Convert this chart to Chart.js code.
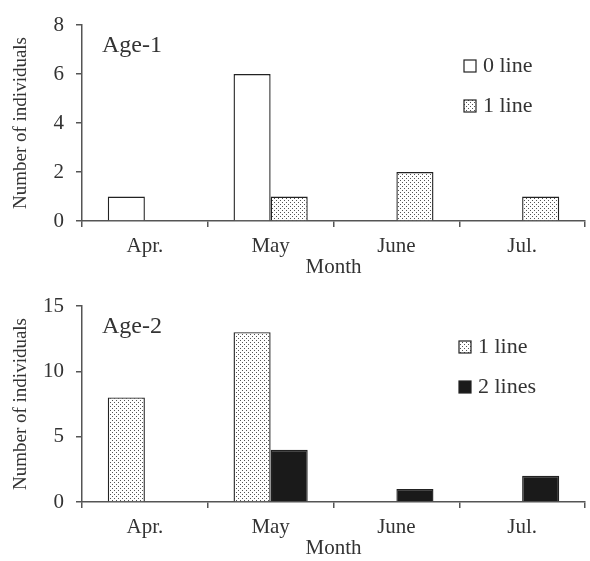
<!DOCTYPE html>
<html>
<head>
<meta charset="utf-8">
<script src="https://cdn.jsdelivr.net/npm/chart.js"></script>
<style>
  body { margin: 0; background: #fff; }
  canvas { display: block; }
</style>
</head>
<body>
<canvas id="age1" width="590" height="280"></canvas>
<canvas id="age2" width="590" height="281"></canvas>
<script>
// data
const months = ["Apr.", "May", "June", "Jul."];
const age1Line0 = [1, 6, 0, 0];
const age1Line1 = [0, 1, 2, 1];
const age2Line1 = [8, 13, 0, 0];
const age2Line2 = [0, 4, 1, 2];
const age1Ticks = [0, 2, 4, 6, 8];
const age2Ticks = [0, 5, 10, 15];

const SERIF = "'Liberation Serif', 'Times New Roman', serif";
const AXIS = "#555";
const TEXT = "#333";

// dotted fill
function dots() {
  const c = document.createElement("canvas");
  c.width = 4; c.height = 4;
  const g = c.getContext("2d");
  g.fillStyle = "#fff";
  g.fillRect(0, 0, 4, 4);
  g.fillStyle = "#555";
  g.fillRect(0, 0, 1, 1);
  g.fillRect(2, 2, 1, 1);
  return g.createPattern(c, "repeat");
}
const dotFill = dots();

// legend + panel label drawn inside the plot area
const panelDecor = {
  id: "panelDecor",
  afterDraw(chart, args, opts) {
    const ctx = chart.ctx;
    const a = chart.chartArea;
    ctx.save();
    ctx.fillStyle = TEXT;
    ctx.textBaseline = "middle";
    ctx.font = "24px " + SERIF;
    ctx.fillText(opts.label, a.left + 20, a.top + 21);
    ctx.font = "22px " + SERIF;
    chart.data.datasets.forEach((ds, i) => {
      const x = a.right - opts.legendRight;
      const y = a.top + 41 + i * 40;
      ctx.fillStyle = ds.backgroundColor;
      ctx.fillRect(x, y - 6, 12, 12);
      ctx.strokeStyle = "#222";
      ctx.lineWidth = 1.2;
      ctx.strokeRect(x, y - 6, 12, 12);
      ctx.fillStyle = TEXT;
      ctx.fillText(ds.label, x + 19, y);
    });
    ctx.restore();
  }
};

function makeChart(id, sets, ticks, max, step, label, legendRight, top) {
  return new Chart(id, {
    type: "bar",
    data: {
      labels: months,
      datasets: sets.map(s => ({
        label: s.label,
        data: s.data,
        backgroundColor: s.fill,
        borderColor: "#222",
        borderWidth: 1.4,
        barPercentage: 1,
        categoryPercentage: 0.59
      }))
    },
    options: {
      responsive: false,
      animation: false,
      devicePixelRatio: 1,
      layout: { padding: { top: top, right: 5, left: 0, bottom: 0 } },
      plugins: {
        legend: { display: false },
        tooltip: { enabled: false },
        panelDecor: { label: label, legendRight: legendRight }
      },
      scales: {
        x: {
          afterFit: s => { s.height = 59; },
          border: { color: AXIS, width: 1.5 },
          grid: { drawOnChartArea: false, tickLength: 6, color: AXIS, lineWidth: 1.5, offset: true },
          ticks: { color: TEXT, font: { family: SERIF, size: 21 }, padding: 7 },
          title: { display: true, text: "Month", color: TEXT, font: { family: SERIF, size: 21 }, padding: { top: 0, bottom: 0 } }
        },
        y: {
          min: 0,
          max: max,
          afterFit: s => { s.width = 82; },
          afterBuildTicks: s => { s.ticks = ticks.map(v => ({ value: v })); },
          border: { color: AXIS, width: 1.5 },
          grid: { drawOnChartArea: false, tickLength: 6, color: AXIS, lineWidth: 1.5 },
          ticks: { stepSize: step, color: TEXT, font: { family: SERIF, size: 21 }, padding: 12 },
          title: { display: true, text: "Number of individuals", color: TEXT, font: { family: SERIF, size: 19 }, padding: { top: 10, bottom: 0 } }
        }
      }
    },
    plugins: [panelDecor]
  });
}

makeChart("age1", [
  { label: "0 line", data: age1Line0, fill: "#fff" },
  { label: "1 line", data: age1Line1, fill: dotFill }
], age1Ticks, 8, 2, "Age-1", 121, 25);

makeChart("age2", [
  { label: "1 line", data: age2Line1, fill: dotFill },
  { label: "2 lines", data: age2Line2, fill: "#1a1a1a" }
], age2Ticks, 15, 5, "Age-2", 126, 26);
</script>
</body>
</html>
